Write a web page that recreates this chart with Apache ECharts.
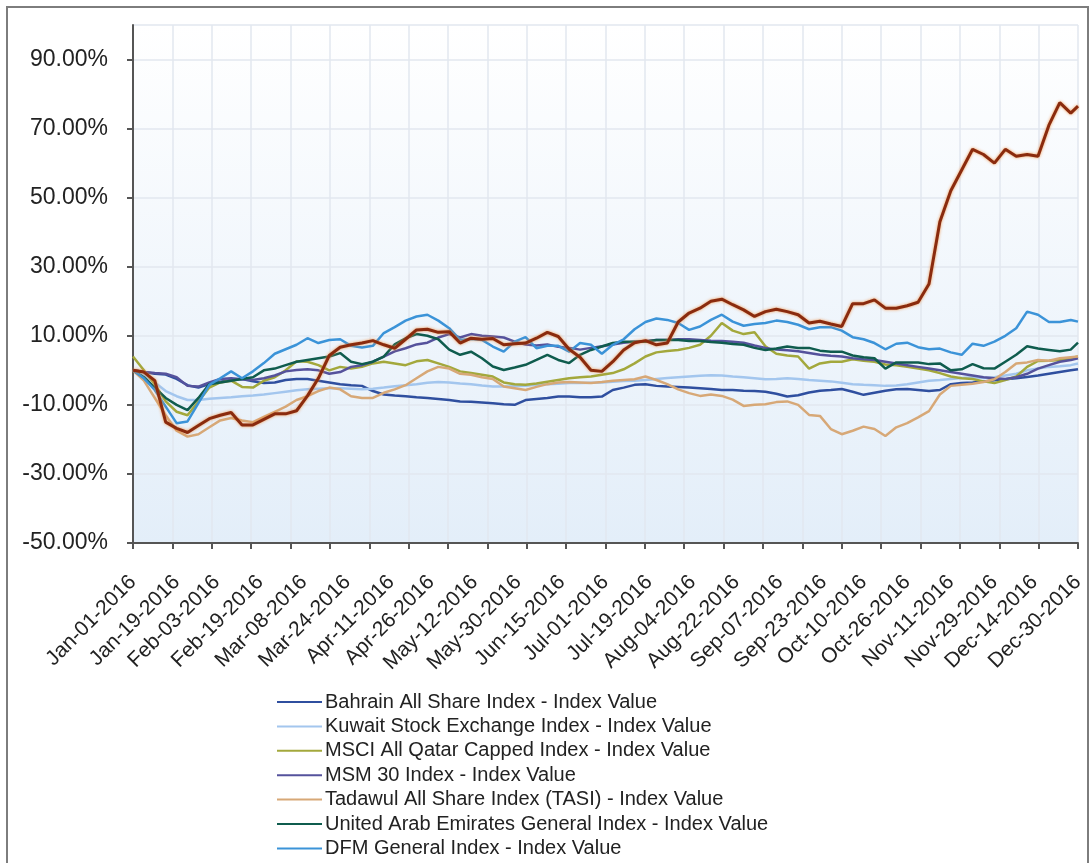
<!DOCTYPE html>
<html>
<head>
<meta charset="utf-8">
<script src="https://cdn.jsdelivr.net/npm/echarts@6/dist/echarts.min.js"></script>
<style>
html,body{margin:0;padding:0;background:#fff;}
#c{width:1090px;height:863px;}
</style>
</head>
<body>
<div id="c"></div>
<script>
// Trading-day index (weekdays from Jan-01-2016) of each sampled point
const sampleDay = [0,3,6,9,12,15,18,21,24,27,30,33,36,39,42,45,48,51,54,57,60,63,66,69,72,75,78,81,84,87,90,93,96,99,102,105,108,111,114,117,120,123,126,129,132,135,138,141,144,147,150,153,156,159,162,165,168,171,174,177,180,183,186,189,192,195,198,201,204,207,210,213,216,219,222,225,228,231,234,237,240,243,246,249,252,255,258,260];

// Axis date labels and their trading-day index
const labelDay = [0,12,23,35,47,59,71,82,94,106,118,130,142,154,166,178,190,201,213,225,237,248,260];
const labelText = ['Jan-01-2016','Jan-19-2016','Feb-03-2016','Feb-19-2016','Mar-08-2016','Mar-24-2016','Apr-11-2016','Apr-26-2016','May-12-2016','May-30-2016','Jun-15-2016','Jul-01-2016','Jul-19-2016','Aug-04-2016','Aug-22-2016','Sep-07-2016','Sep-23-2016','Oct-10-2016','Oct-26-2016','Nov-11-2016','Nov-29-2016','Dec-14-2016','Dec-30-2016'];

// Series names (legend shows the first seven)
const names = [
  'Bahrain All Share Index - Index Value',
  'Kuwait Stock Exchange Index - Index Value',
  'MSCI All Qatar Capped Index - Index Value',
  'MSM 30 Index - Index Value',
  'Tadawul All Share Index (TASI) - Index Value',
  'United Arab Emirates General Index - Index Value',
  'DFM General Index - Index Value',
  'EGX 30 Index - Index Value'
];

// Percent change values (%)
const bahrain = [0,-0.5,-1,-1.2,-2.5,-4.3,-5,-4,-3.3,-2.8,
  -2.5,-3.2,-3.7,-3.5,-2.8,-2.5,-2.5,-3,-3.5,-4,
  -4.3,-4.5,-6,-7,-7.3,-7.5,-7.8,-8,-8.3,-8.6,
  -9,-9.1,-9.3,-9.5,-9.8,-10,-8.6,-8.3,-8,-7.6,
  -7.6,-7.8,-7.8,-7.6,-5.7,-5,-4.2,-4,-4.5,-4.7,
  -4.8,-5,-5.2,-5.4,-5.7,-5.7,-5.9,-6,-6.2,-6.8,
  -7.6,-7.2,-6.4,-5.9,-5.7,-5.4,-6.2,-7.1,-6.5,-5.9,
  -5.5,-5.4,-5.7,-6,-5.7,-4,-3.7,-3.5,-3.2,-2.9,
  -2.6,-2.3,-1.9,-1.5,-1,-0.5,0,0.3];
const kuwait = [0,-1.5,-3.5,-6,-7.5,-8.6,-8.6,-8.2,-8,-7.8,
  -7.5,-7.3,-7,-6.6,-6.2,-5.8,-5.5,-5.3,-5.2,-5.2,
  -5.3,-5.5,-5.3,-5,-4.6,-4.3,-4,-3.6,-3.4,-3.5,
  -3.8,-4,-4.4,-4.7,-4.7,-4.6,-4.5,-4.2,-4,-3.9,
  -3.7,-3.7,-3.6,-3.5,-3.3,-3.1,-3,-2.8,-2.5,-2.2,
  -2,-1.8,-1.6,-1.4,-1.5,-1.8,-2,-2.3,-2.6,-2.5,
  -2.3,-2.5,-2.8,-3,-3.2,-3.6,-4,-4.2,-4.3,-4.5,
  -4.4,-4,-3.5,-3,-2.8,-2.5,-2.2,-2,-2.2,-2,
  -1.5,-1,0,0.5,1,1.2,1.5,2];
const qatar = [4,0,-4,-9,-12,-13,-9,-5,-3.5,-3,
  -4.8,-5,-3,-2,0,2.6,2.5,1.5,0,1,
  0.5,1,2,2.5,2,1.5,2.6,3,2,1,
  -0.3,-0.8,-1.3,-1.8,-3.5,-4,-4.2,-3.8,-3.3,-2.8,
  -2.3,-2,-1.8,-1.3,-0.8,0.3,2,4,5.2,5.6,
  5.9,6.5,7.4,10,13.7,11.5,10.5,11,7,4.8,
  4.3,4,0.5,2,2.5,2.5,3.2,2.8,2.5,1.7,
  1.5,1,0.5,0,-0.8,-1.8,-2.3,-2.5,-3.2,-3.7,
  -2.8,-1.8,1,2.7,2.8,3,3.5,4];
const msm = [0,-0.5,-0.8,-1,-2,-4.5,-4.7,-3.5,-2.5,-2.3,
  -2.6,-2.8,-2.3,-1.5,-0.3,0.1,0.3,0,-1,-0.5,
  1,1.5,2.5,4,5.5,6.4,7.5,8,9.5,10.5,
  9.5,10.5,10,9.8,9.5,8.3,7.5,7.2,7.5,6.8,
  6.5,6,6.5,7,7.5,8,8.3,8.5,8.8,8.8,
  9,9,8.8,8.6,8.5,8.3,8,7.2,6.5,6,
  5.8,5.5,5,4.5,4.2,4,3.5,3.2,3,2.5,
  2,1.5,1,0.5,0,-0.5,-1,-1.5,-2,-2.3,
  -2.5,-2,-1,0.5,1.5,2.5,3,3.5];
const tadawul = [0,-3,-8,-13,-17.5,-19.2,-18.5,-16.5,-14.5,-13.8,
  -14.5,-15,-13.5,-12,-10.5,-8.6,-7.5,-6,-5,-5.5,
  -7.5,-8,-8,-6.5,-5.5,-4.3,-2.3,-0.3,1,0.5,
  -1,-1.3,-2,-2.5,-4.7,-5.2,-5.7,-4.8,-4,-3.5,
  -3.4,-3.5,-3.7,-3.4,-3,-2.8,-2.6,-1.8,-2.8,-4,
  -5.5,-6.6,-7.4,-7,-7.4,-8.5,-10.3,-10,-9.8,-9.2,
  -9,-10,-12.9,-13.2,-17,-18.5,-17.5,-16.3,-17,-19,
  -16.5,-15.3,-13.6,-11.8,-7,-4.5,-4.2,-3.9,-3.4,-2.6,
  -0.5,2,2.3,3,2.8,3.5,3.8,4];
const uae = [0,-2,-5,-8,-10,-11.5,-8,-4,-3.5,-3,
  -2.5,-2,0,0.5,1.5,2.5,3,3.5,4,5,
  2.5,1.8,2.5,4,7.5,9.3,10.5,10,9,6,
  4.5,5.4,3.5,1.1,0.1,0.8,1.6,3,4.5,3,
  2.1,4.5,5.9,6.9,7.9,8.3,8.3,8.3,8.8,8.8,
  8.8,8.5,8.5,8.2,8,7.6,7.4,6.5,5.9,6.3,
  6.9,6.5,6.5,5.7,5.4,5.4,4.3,3.8,3.5,0.5,
  2.3,2.3,2.3,1.8,2,0,0.3,1.8,0.6,0.5,
  2.5,4.5,7,6.3,5.9,5.5,6,8];
const dfm = [0,-2.3,-5.7,-10.5,-15.3,-14.8,-9.5,-4.2,-2.3,-0.3,
  -2.3,-0.3,2.1,4.8,6.1,7.4,9.3,7.9,8.8,9,
  7.1,6.6,7.1,10.8,12.5,14.4,15.6,16.1,14.4,12.2,
  8.8,9.1,8.8,6.9,5.4,8.3,9.6,6.4,7.1,7.1,
  5.4,7.9,7.4,4.8,7.4,9,11.9,14,15,14.6,
  13.7,11.7,12.7,14.6,16.1,14.1,12.9,13.4,13.7,14.4,
  14,13.2,11.9,12.5,12.5,11.5,9.6,9,7.9,6.1,
  7.7,8,6.7,6.1,6.3,5.2,4.5,7.7,7.1,8.3,
  10,12.2,17,16.1,14,14,14.6,14.1];
const egx = [0,-0.5,-3,-15,-16.8,-18,-16,-14,-13,-12.2,
  -15.8,-15.8,-14.2,-12.6,-12.6,-11.7,-7.4,-2.3,4.3,6.7,
  7.4,7.9,8.6,7.4,6.4,9,11.7,11.9,11,11.2,
  7.9,9.3,9,9.2,7.4,7.7,7.9,9.3,11,9.8,
  6.1,3.8,0,-0.3,2.5,5.9,8,8.6,7.4,7.9,
  14,16.6,18,20,20.6,19,17.5,15.6,17,17.7,
  17,16.1,13.7,14.2,13.4,12.7,19.3,19.3,20.4,18,
  18,18.7,19.7,25,43,52,58,64,62.5,60,
  64,62,62.5,62,71,77.5,74.5,76.5];

const yTicks = { min: -50, max: 100, step: 20 };
const colors = ['#2f4f9f','#a3c6ee','#a3a83c','#55529c','#d7a877','#0f5c4e','#3b93d8','#8a2b0e'];
const valueSets = [bahrain, kuwait, qatar, msm, tadawul, uae, dfm, egx];

const chart = echarts.init(document.getElementById('c'), null, { renderer: 'canvas' });
const FONT = "'Liberation Sans', Arial, sans-serif";

const series = valueSets.map((vals, k) => ({
  name: names[k],
  type: 'line',
  data: sampleDay.map((d, i) => [d, vals[i]]),
  showSymbol: false,
  symbol: 'none',
  lineStyle: k === 7
    ? { width: 3, color: colors[k], shadowColor: 'rgba(240,140,60,0.9)', shadowBlur: 3 }
    : { width: 2.5, color: colors[k] },
  itemStyle: { color: colors[k] },
  z: 2 + k
}));

chart.setOption({
  animation: false,
  backgroundColor: '#ffffff',
  textStyle: { fontFamily: FONT },
  graphic: [{
    type: 'rect',
    shape: { x: 7, y: 7, width: 1081, height: 900 },
    style: { fill: 'none', stroke: '#7d7d7d', lineWidth: 2 },
    silent: true, z: 100
  }],
  grid: {
    left: 133, top: 25, right: 12, bottom: 320,
    show: true,
    borderWidth: 0,
    backgroundColor: {
      type: 'linear', x: 0, y: 0, x2: 0, y2: 1,
      colorStops: [{ offset: 0, color: '#ffffff' }, { offset: 1, color: '#e3eef9' }]
    }
  },
  legend: {
    data: names.slice(0, 7),
    orient: 'vertical',
    left: 277, top: 691, height: 260,
    padding: 0,
    icon: 'rect',
    itemWidth: 45, itemHeight: 2,
    itemGap: 2.4,
    textStyle: { fontSize: 20, color: '#222', fontFamily: FONT, lineHeight: 22, padding: [0, 0, 0, -2] }
  },
  xAxis: {
    type: 'value',
    min: 0, max: 260, interval: 260 / 24,
    axisLine: { show: true, onZero: false, lineStyle: { color: '#555', width: 2 } },
    axisTick: { show: true, inside: false, length: 6, lineStyle: { color: '#555', width: 2 } },
    splitLine: { show: true, lineStyle: { color: '#e2e7ef', width: 1.5 } },
    axisLabel: {
      customValues: labelDay,
      rotate: 45,
      margin: 36,
      fontSize: 21,
      color: '#222',
      fontFamily: FONT,
      formatter: v => { const i = labelDay.indexOf(Math.round(v)); return i >= 0 ? labelText[i] : ''; }
    }
  },
  yAxis: {
    type: 'value',
    min: yTicks.min, max: yTicks.max, interval: yTicks.step,
    axisLine: { show: true, onZero: false, lineStyle: { color: '#555', width: 2 } },
    axisTick: { show: true, inside: false, length: 6, lineStyle: { color: '#555', width: 2 } },
    splitLine: { show: true, lineStyle: { color: '#e2e7ef', width: 1.5 } },
    axisLabel: {
      showMaxLabel: false,
      margin: 25,
      fontSize: 23,
      color: '#222',
      fontFamily: FONT,
      formatter: v => v.toFixed(2) + '%'
    }
  },
  series: series
});
</script>
</body>
</html>
